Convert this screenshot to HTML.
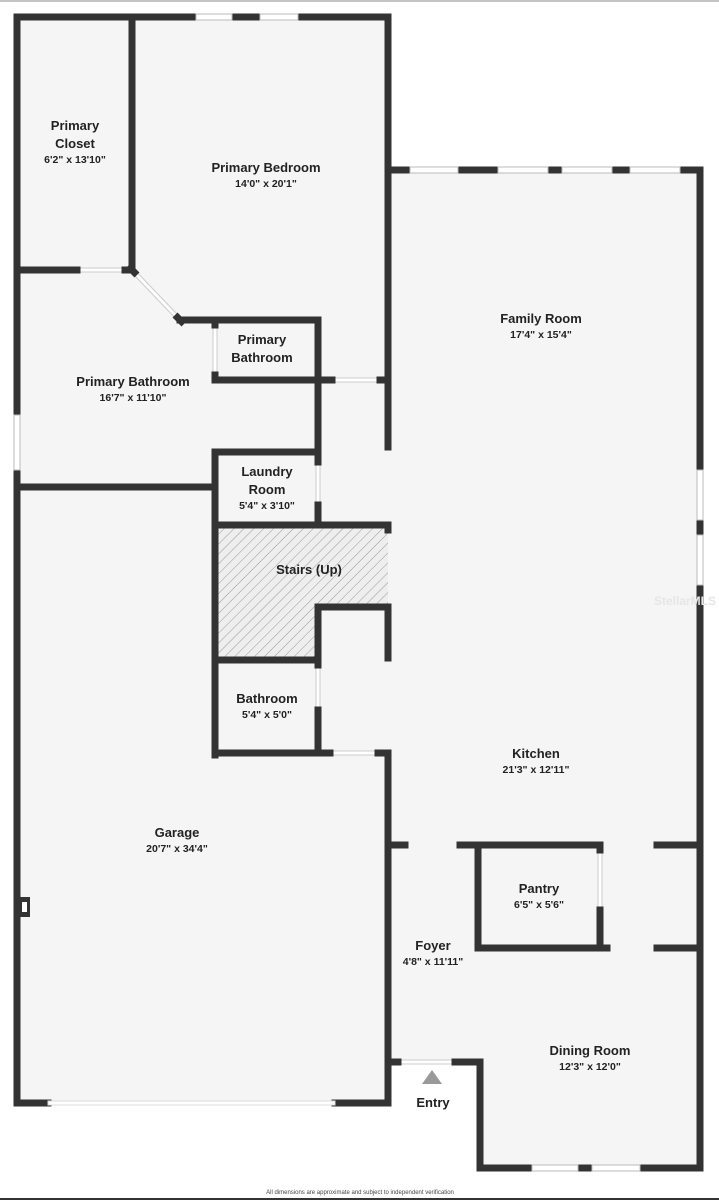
<!DOCTYPE html>
<html><head><meta charset="utf-8"><style>
html,body{margin:0;padding:0;background:#fff;}
svg{display:block;}
text{font-family:"Liberation Sans",sans-serif;fill:#222;text-anchor:middle;}
.n{font-size:13px;font-weight:bold;}
.d{font-size:10.5px;font-weight:bold;}
</style></head><body>
<svg width="719" height="1200" viewBox="0 0 719 1200">
<defs><pattern id="h" width="7" height="7" patternUnits="userSpaceOnUse" patternTransform="rotate(45)"><rect width="7" height="7" fill="#eee"/><line x1="0" y1="0" x2="0" y2="7" stroke="#999" stroke-width="1"/></pattern></defs>
<line x1="0" y1="1" x2="719" y2="1" stroke="#888" stroke-width="1"/>
<line x1="0" y1="1199" x2="719" y2="1199" stroke="#333" stroke-width="2"/>
<polygon points="17,17 388,17 388,170 700,170 700,1168 480,1168 480,1062 388,1062 388,1103 17,1103" fill="#f5f5f5"/>
<rect x="218" y="528" width="170" height="78" fill="url(#h)"/>
<rect x="218" y="600" width="100" height="58" fill="url(#h)"/>
<g stroke="#ccc" stroke-width="1" fill="#fff">
<rect x="77" y="268" width="48" height="4"/><rect x="332" y="378" width="48" height="4"/>
<rect x="213" y="325" width="4" height="50"/><rect x="316" y="462" width="4" height="43"/>
<rect x="316" y="665" width="4" height="45"/><rect x="330" y="751" width="48" height="4"/>
<rect x="398" y="1060" width="57" height="4"/><rect x="598" y="850" width="4" height="60"/>
</g>
<g stroke="#333" stroke-width="7" fill="none" stroke-linecap="square">
<path d="M17,17 H196 M232,17 H260 M298,17 H388 V447"/>
<path d="M17,17 V415 M17,470 V1103 H48 M335,1103 H388 V1062 H398 M455,1062 H480 V1168 H532 M578,1168 H592 M640,1168 H700 V585 M700,535 V520 M700,470 V170 H680 M630,170 H612 M562,170 H548 M498,170 H458 M410,170 H388"/>
<path d="M132,17 V270 M17,270 H77 M125,270 H132 M180,320 H318 V450"/>
<path d="M215,320 V325 M215,375 V380 H332 M380,380 H388"/>
<path d="M17,487 H215 M215,452 H318 M318,452 V462 M318,505 V525 M215,452 V755 M215,525 H388 V530"/>
<path d="M318,660 V607 H388 V658 M215,660 H318 M318,665 V660 M318,710 V753 M215,753 H330 M378,753 H388 V1062"/>
<path d="M388,845 H405 M460,845 H600 M478,845 V948 H607 M600,845 V850 M600,910 V948 M657,845 H700 M657,948 H700"/>
</g>
<line x1="134" y1="272" x2="178" y2="318" stroke="#ccc" stroke-width="5"/>
<line x1="135" y1="273" x2="177" y2="317" stroke="#fff" stroke-width="3"/>
<g stroke="#333" stroke-width="7"><line x1="128" y1="266" x2="137" y2="275"/><line x1="175" y1="315" x2="184" y2="324"/></g>
<g stroke="#bbb" stroke-width="1" fill="#fff">
<rect x="196" y="14" width="36" height="6"/><rect x="260" y="14" width="38" height="6"/>
<rect x="410" y="167" width="48" height="6"/><rect x="498" y="167" width="50" height="6"/><rect x="562" y="167" width="50" height="6"/><rect x="630" y="167" width="50" height="6"/>
<rect x="697" y="470" width="6" height="50"/><rect x="697" y="535" width="6" height="50"/>
<rect x="14" y="415" width="6" height="55"/>
<rect x="532" y="1165" width="46" height="6"/><rect x="592" y="1165" width="48" height="6"/>
<rect x="48" y="1101" width="287" height="4" stroke="#ddd"/>
</g>
<rect x="20" y="897" width="10" height="20" fill="#333"/><rect x="22" y="902" width="5" height="10" fill="#fff"/>
<polygon points="432,1070 422,1084 442,1084" fill="#999"/>
<text class="n" x="75" y="130">Primary</text><text class="n" x="75" y="148">Closet</text><text class="d" x="75" y="163">6'2" x 13'10"</text>
<text class="n" x="266" y="172">Primary Bedroom</text><text class="d" x="266" y="187">14'0" x 20'1"</text>
<text class="n" x="541" y="323">Family Room</text><text class="d" x="541" y="338">17'4" x 15'4"</text>
<text class="n" x="262" y="344">Primary</text><text class="n" x="262" y="362">Bathroom</text>
<text class="n" x="133" y="386">Primary Bathroom</text><text class="d" x="133" y="401">16'7" x 11'10"</text>
<text class="n" x="267" y="476">Laundry</text><text class="n" x="267" y="494">Room</text><text class="d" x="267" y="509">5'4" x 3'10"</text>
<text class="n" x="309" y="574">Stairs (Up)</text>
<text class="n" x="267" y="703">Bathroom</text><text class="d" x="267" y="718">5'4" x 5'0"</text>
<text class="n" x="536" y="758">Kitchen</text><text class="d" x="536" y="773">21'3" x 12'11"</text>
<text class="n" x="177" y="837">Garage</text><text class="d" x="177" y="852">20'7" x 34'4"</text>
<text class="n" x="539" y="893">Pantry</text><text class="d" x="539" y="908">6'5" x 5'6"</text>
<text class="n" x="433" y="950">Foyer</text><text class="d" x="433" y="965">4'8" x 11'11"</text>
<text class="n" x="590" y="1055">Dining Room</text><text class="d" x="590" y="1070">12'3" x 12'0"</text>
<text class="n" x="433" y="1107">Entry</text>
<text x="360" y="1194" style="font-size:6px;fill:#444">All dimensions are approximate and subject to independent verification</text>
<text x="685" y="605" style="font-size:12px;font-weight:bold;fill:#e6e6e6">StellarMLS</text>
</svg>
</body></html>
